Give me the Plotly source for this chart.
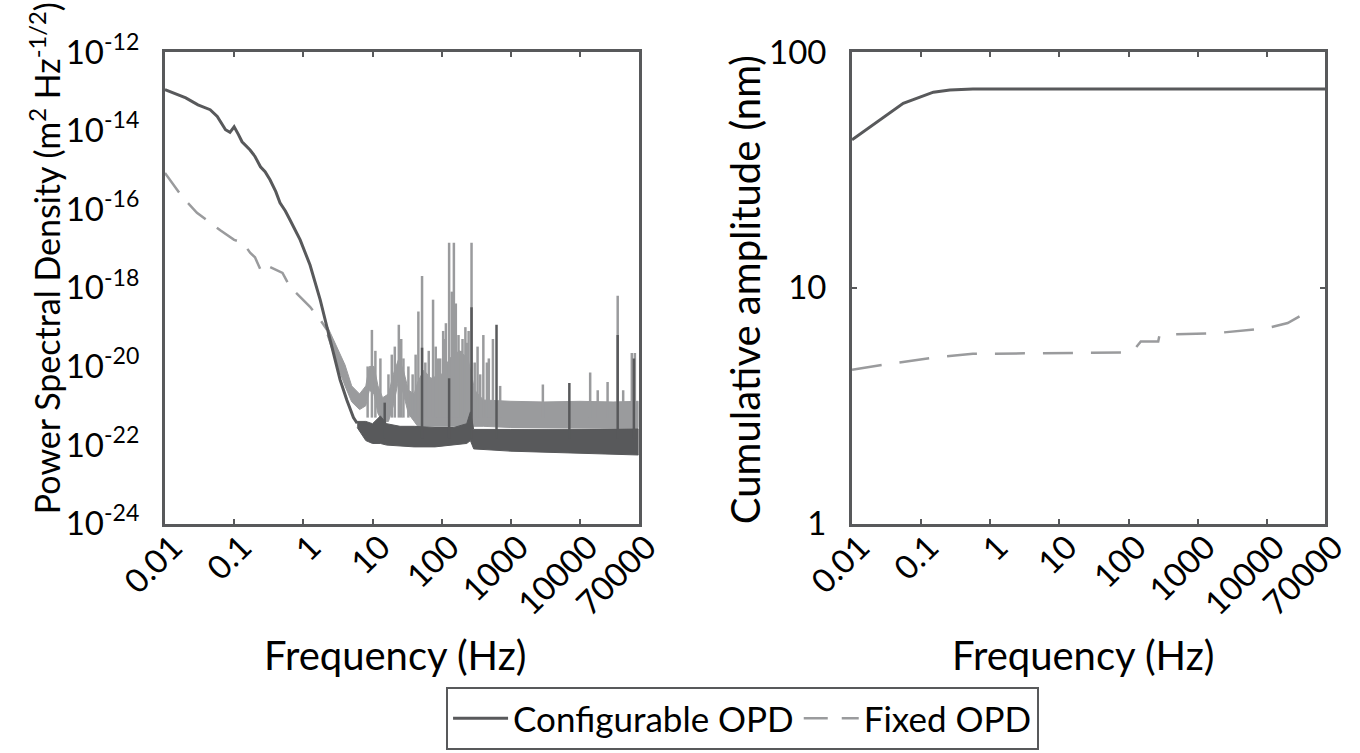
import plotly.graph_objects as go
from plotly.subplots import make_subplots

FONT = "Lato"
DARK = "#58595b"
LIGHT = "#9a9b9d"
AXIS = "#58595b"

# ---- left panel: power spectral density ----
# configurable OPD, smooth low-frequency part
psd_conf_f = [0.01, 0.02, 0.03, 0.045, 0.057, 0.075, 0.087, 0.1, 0.115, 0.13, 0.17, 0.2,
              0.24, 0.28, 0.33, 0.4, 0.46, 0.55, 0.64, 0.9, 1.25, 1.75, 2.3, 3.4, 4.25, 5.3, 6.0]
psd_conf = [1.1e-13, 6.8e-14, 4.5e-14, 3.4e-14, 2.3e-14, 1.05e-14, 9.0e-15, 1.25e-14, 8.0e-15,
            5.2e-15, 3.2e-15, 2.2e-15, 1.2e-15, 9.0e-16, 5.6e-16, 2.8e-16, 1.45e-16, 9.0e-17,
            5.4e-17, 1.66e-17, 3.8e-18, 5.0e-19, 7.2e-20, 4.6e-21, 1.4e-21, 5.0e-22, 3.6e-22]

# configurable OPD, noise floor envelope
conf_floor_f = [6, 8, 10, 13, 16, 25, 40, 80, 150, 230, 260, 290, 1000, 10000, 70000]
conf_floor_hi = [4.0e-22, 4.0e-22, 3.5e-22, 5.5e-22, 3.5e-22, 3.0e-22, 3.0e-22, 2.8e-22,
                 2.8e-22, 3.5e-22, 7.0e-22, 2.5e-22, 2.5e-22, 2.5e-22, 2.6e-22]
conf_floor_lo = [2.8e-22, 1.3e-22, 1.1e-22, 1.1e-22, 1.0e-22, 9.5e-23, 9.0e-23, 9.0e-23,
                 1.0e-22, 1.1e-22, 1.3e-22, 8.0e-23, 7.0e-23, 6.3e-23, 5.6e-23]

conf_spike_f = [15, 52, 128, 270, 620, 7000, 35000, 60000]
conf_spike = [1.2e-21, 3.0e-20, 5.0e-21, 3.2e-19, 1.15e-19, 3.8e-21, 6.3e-20, 1.6e-20]
CONF_SPIKE_BASE = 1.5e-22

# fixed OPD, smooth low-frequency part
psd_fix_f = [0.01, 0.018, 0.029, 0.045, 0.063, 0.1, 0.135, 0.17, 0.2, 0.24, 0.28, 0.33,
             0.5, 0.64, 0.9, 1.25, 1.75, 2.2]
psd_fix = [8.3e-16, 2.0e-16, 8.1e-17, 4.5e-17, 2.9e-17, 1.66e-17, 1.4e-17, 7.8e-18, 6.0e-18,
           2.9e-18, 4.0e-18, 3.4e-18, 2.4e-18, 1.07e-18, 5.9e-19, 3.3e-19, 1.55e-19, 8.5e-20]

# fixed OPD, noise floor envelope
fix_floor_f = [2.2, 3.0, 4.0, 5.0, 6.5, 8.0, 9.0, 10.5, 12, 14, 17, 20, 24, 28, 33, 40, 45,
               55, 70, 100, 130, 180, 240, 300, 400, 1000, 3000, 10000, 30000, 70000]
fix_floor_hi = [1.1e-19, 3.2e-20, 1.1e-20, 3.2e-21, 2.0e-21, 3.2e-21, 1.0e-20, 1.0e-20,
                3.2e-21, 1.6e-21, 2.0e-21, 6.3e-21, 1.6e-20, 8.0e-21, 2.5e-21, 2.0e-21,
                4.0e-21, 8.0e-21, 5.0e-21, 6.3e-21, 1.6e-20, 2.5e-20, 1.6e-20, 2.5e-21,
                1.4e-21, 1.3e-21, 1.25e-21, 1.3e-21, 1.25e-21, 1.3e-21]
fix_floor_lo = [6.3e-20, 1.26e-20, 3.2e-21, 1.26e-21, 8.0e-22, 1.0e-21, 2.5e-21, 2.0e-21,
                6.3e-22, 4.0e-22, 4.0e-22, 1.0e-21, 5.0e-21, 2.0e-21, 6.3e-22, 4.0e-22,
                3.0e-22, 3.0e-22, 3.0e-22, 3.0e-22, 3.0e-22, 3.0e-22, 3.0e-22, 3.0e-22,
                3.0e-22, 2.8e-22, 2.8e-22, 2.8e-22, 2.8e-22, 2.8e-22]

fix_spike_f = [8.5, 9.8, 11, 13, 17, 19, 21, 24, 26, 28, 33, 38, 42, 46, 52, 58, 65, 75,
               82, 88, 95, 105, 110, 115, 128, 140, 150, 160, 175, 190, 200, 220, 230, 245,
               270, 300, 330, 360, 400, 450, 480, 550, 700, 2900, 14000, 18000, 25000,
               35000, 42000, 56000, 62000]
fix_spike = [1.0e-20, 8.5e-20, 2.5e-20, 1.6e-20, 6.3e-21, 2.0e-20, 3.2e-20, 1.15e-19, 5.0e-20,
             1.6e-20, 1.0e-20, 6.3e-21, 2.0e-20, 2.5e-19, 2.0e-18, 1.26e-20, 2.5e-20, 5.0e-19,
             3.2e-20, 1.6e-20, 1.6e-20, 8.0e-20, 5.0e-20, 1.26e-19, 1.4e-17, 8.0e-19, 1.4e-17,
             4.0e-19, 6.3e-20, 2.5e-20, 5.0e-20, 1.0e-19, 4.0e-20, 8.0e-20, 1.4e-17, 1.26e-20,
             3.2e-20, 6.3e-21, 6.3e-20, 1.26e-20, 1.6e-20, 5.0e-20, 3.2e-21, 3.5e-21, 7.0e-21,
             2.5e-21, 4.0e-21, 6.3e-19, 2.5e-21, 2.2e-20, 2.2e-20]
FIX_SPIKE_BASE = 5e-22

# ---- right panel: cumulative amplitude (nm) ----
cum_conf_f = [0.01, 0.02, 0.039, 0.055, 0.096, 0.15, 0.26, 0.56, 70000]
cum_conf = [42.4, 49.0, 56.4, 60.6, 64.3, 67.5, 69.0, 69.7, 69.7]

cum_fix_f = [0.01, 0.028, 0.134, 0.56, 4.0, 112, 150, 268, 280, 1900, 10000, 20000, 32600, 42300]
cum_fix = [4.49, 4.72, 5.04, 5.25, 5.28, 5.32, 5.92, 5.92, 6.32, 6.43, 6.75, 7.09, 7.69, 8.2]

freq_ticks = [0.01, 0.1, 1, 10, 100, 1000, 10000, 70000]
freq_labels = ["0.01", "0.1", "1", "10", "100", "1000", "10000", "70000"]
psd_ticks = [1e-12, 1e-14, 1e-16, 1e-18, 1e-20, 1e-22, 1e-24]
psd_labels = ["10<sup>-12</sup>", "10<sup>-14</sup>", "10<sup>-16</sup>", "10<sup>-18</sup>",
              "10<sup>-20</sup>", "10<sup>-22</sup>", "10<sup>-24</sup>"]
cum_ticks = [1, 10, 100]
cum_labels = ["1", "10", "100"]


def band(f, hi, lo):
    return list(f) + list(f)[::-1], list(hi) + list(lo)[::-1]


def spikes(f, peak, base):
    xs, ys = [], []
    for fi, pi in zip(f, peak):
        xs += [fi, fi, None]
        ys += [base, pi, None]
    return xs, ys


fig = make_subplots(rows=1, cols=2)

# fixed OPD (drawn underneath)
bx, by = band(fix_floor_f, fix_floor_hi, fix_floor_lo)
fig.add_trace(go.Scatter(x=bx, y=by, fill="toself", fillcolor=LIGHT, mode="lines",
                         line=dict(color=LIGHT, width=1), showlegend=False,
                         hoverinfo="skip"), row=1, col=1)
sx, sy = spikes(fix_spike_f, fix_spike, FIX_SPIKE_BASE)
fig.add_trace(go.Scatter(x=sx, y=sy, mode="lines", line=dict(color=LIGHT, width=2.5),
                         showlegend=False, hoverinfo="skip"), row=1, col=1)
fig.add_trace(go.Scatter(x=psd_fix_f, y=psd_fix, mode="lines", name="Fixed OPD",
                         legendrank=2,
                         line=dict(color=LIGHT, width=2.5, dash="24px,14px")),
              row=1, col=1)

# configurable OPD
bx, by = band(conf_floor_f, conf_floor_hi, conf_floor_lo)
fig.add_trace(go.Scatter(x=bx, y=by, fill="toself", fillcolor=DARK, mode="lines",
                         line=dict(color=DARK, width=1), showlegend=False,
                         hoverinfo="skip"), row=1, col=1)
sx, sy = spikes(conf_spike_f, conf_spike, CONF_SPIKE_BASE)
fig.add_trace(go.Scatter(x=sx, y=sy, mode="lines", line=dict(color=DARK, width=2.5),
                         showlegend=False, hoverinfo="skip"), row=1, col=1)
fig.add_trace(go.Scatter(x=psd_conf_f, y=psd_conf, mode="lines", name="Configurable OPD",
                         legendrank=1, line=dict(color=DARK, width=3)), row=1, col=1)

# cumulative amplitude
fig.add_trace(go.Scatter(x=cum_fix_f, y=cum_fix, mode="lines", showlegend=False,
                         line=dict(color=LIGHT, width=2.5, dash="30px,18px")), row=1, col=2)
fig.add_trace(go.Scatter(x=cum_conf_f, y=cum_conf, mode="lines", showlegend=False,
                         line=dict(color=DARK, width=3)), row=1, col=2)

axis_common = dict(type="log", showline=True, linecolor=AXIS, linewidth=3, mirror="ticks",
                   ticks="inside", ticklen=5, tickwidth=2, tickcolor=AXIS, showgrid=False,
                   zeroline=False, automargin=False,
                   tickfont=dict(family=FONT, size=33, color="black"))

fig.update_xaxes(**axis_common, range=[-2, 4.845], tickvals=freq_ticks, ticktext=freq_labels,
                 tickangle=-45, ticklabelstandoff=-12, ticklabelshift=8)
fig.update_xaxes(domain=[0.1213, 0.4695], row=1, col=1)
fig.update_xaxes(domain=[0.6265, 0.9745], row=1, col=2)

fig.update_yaxes(**axis_common, ticklabelstandoff=16)
fig.update_yaxes(domain=[0.3045, 0.931])
fig.update_yaxes(range=[-24, -12], tickvals=psd_ticks, ticktext=psd_labels, ticklen=0,
                 row=1, col=1)
fig.update_yaxes(range=[0, 2], tickvals=cum_ticks, ticktext=cum_labels, row=1, col=2)

title_font = dict(family=FONT, size=40, color="black")
fig.add_annotation(text="Power Spectral Density (m<sup>2</sup> Hz<sup>-1/2</sup>)",
                   xref="paper", yref="paper", x=0.033, y=0.657, textangle=-90,
                   xanchor="center", yanchor="middle", showarrow=False,
                   font=dict(family=FONT, size=34, color="black"))
fig.add_annotation(text="Cumulative amplitude (nm)",
                   xref="paper", yref="paper", x=0.548, y=0.615, textangle=-90,
                   xanchor="center", yanchor="middle", showarrow=False, font=title_font)
fig.add_annotation(text="Frequency (Hz)", xref="paper", yref="paper", x=0.2905, y=0.130,
                   xanchor="center", yanchor="middle", showarrow=False, font=title_font)
fig.add_annotation(text="Frequency (Hz)", xref="paper", yref="paper", x=0.7965, y=0.130,
                   xanchor="center", yanchor="middle", showarrow=False, font=title_font)

fig.update_layout(
    width=1360, height=753,
    margin=dict(l=0, r=0, t=0, b=0, autoexpand=False),
    paper_bgcolor="white", plot_bgcolor="white",
    font=dict(family=FONT, color="black"),
    legend=dict(orientation="h", x=0.546, xanchor="center", y=0.004, yanchor="bottom",
                bordercolor=AXIS, borderwidth=2, font=dict(family=FONT, size=35, color="black"),
                itemwidth=55, bgcolor="white"),
)

fig.write_html("out.html", config={"displayModeBar": False},
               post_script="document.body.style.margin='0';")
